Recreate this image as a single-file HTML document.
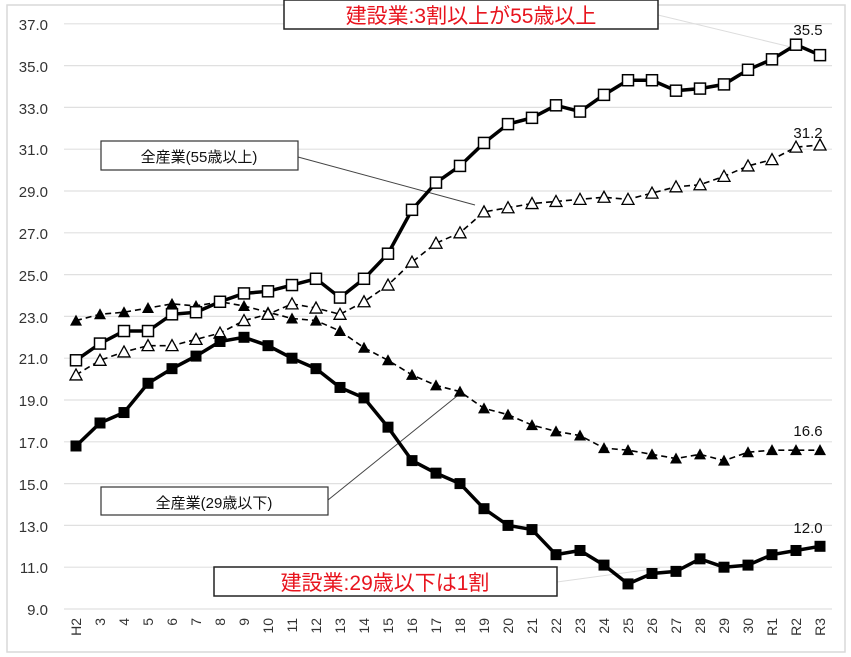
<!DOCTYPE html>
<html><head><meta charset="utf-8"><style>
body{margin:0;background:#fff}
svg{display:block;font-family:"Liberation Sans","Noto Sans CJK JP",sans-serif}
</style></head><body>
<svg id="s" width="851" height="657" viewBox="0 0 851 657">
<rect x="7" y="5" width="838" height="647" fill="#fff" stroke="#d9d9d9" stroke-width="1.5"/>
<g id="grid" stroke="#e0e0e0" stroke-width="1.2"></g>
<g font-size="15" fill="#333" text-anchor="end">
<text x="48" y="30">37.0</text><text x="48" y="72">35.0</text><text x="48" y="114">33.0</text><text x="48" y="155">31.0</text><text x="48" y="197">29.0</text><text x="48" y="239">27.0</text><text x="48" y="281">25.0</text><text x="48" y="323">23.0</text><text x="48" y="364">21.0</text><text x="48" y="406">19.0</text><text x="48" y="448">17.0</text><text x="48" y="490">15.0</text><text x="48" y="532">13.0</text><text x="48" y="573">11.0</text><text x="48" y="615">9.0</text>
</g>
<g id="xl" font-size="14" fill="#333" text-anchor="end"></g>
<line x1="298" y1="157" x2="475" y2="205" stroke="#444" stroke-width="1"/>
<line x1="328" y1="500" x2="462" y2="392" stroke="#444" stroke-width="1"/>
<line x1="658" y1="15" x2="795" y2="48" stroke="#ddd" stroke-width="1"/>
<line x1="557" y1="582" x2="660" y2="568" stroke="#ddd" stroke-width="1"/>
<g id="ser"></g>
<rect x="284" y="0" width="374" height="29" fill="#fff" stroke="#222" stroke-width="1.5"/>
<text x="471" y="23" font-size="21" fill="#e8141e" text-anchor="middle">建設業:3割以上が55歳以上</text>
<rect x="101" y="141" width="197" height="29" fill="#fff" stroke="#333" stroke-width="1.2"/>
<text x="199" y="162" font-size="15" fill="#111" text-anchor="middle">全産業(55歳以上)</text>
<rect x="101" y="487" width="227" height="28" fill="#fff" stroke="#333" stroke-width="1.2"/>
<text x="214" y="508" font-size="15" fill="#111" text-anchor="middle">全産業(29歳以下)</text>
<rect x="214" y="567" width="343" height="29" fill="#fff" stroke="#222" stroke-width="1.5"/>
<text x="385" y="590" font-size="21" fill="#e8141e" text-anchor="middle">建設業:29歳以下は1割</text>
<g font-size="15" fill="#111" text-anchor="middle">
<text x="808" y="35">35.5</text><text x="808" y="138">31.2</text><text x="808" y="436">16.6</text><text x="808" y="533">12.0</text>
</g>
</svg>
<script>
var NS="http://www.w3.org/2000/svg";
function Y(v){return 609-(v-9)*20.9}function X(i){return 76+24*i}
function el(p,t,a){var e=document.createElementNS(NS,t);for(var k in a)e.setAttribute(k,a[k]);p.appendChild(e);return e}
var g=document.getElementById('grid');
for(var v=9;v<=37;v+=2)el(g,'line',{x1:64,x2:832,y1:Y(v),y2:Y(v)});
var labs=['H2','3','4','5','6','7','8','9','10','11','12','13','14','15','16','17','18','19','20','21','22','23','24','25','26','27','28','29','30','R1','R2','R3'];
var xl=document.getElementById('xl');
labs.forEach(function(l,i){var t=el(xl,'text',{x:0,y:0,transform:'translate('+(X(i)+5)+',618) rotate(-90)'});t.textContent=l;});
var c55=[20.9,21.7,22.3,22.3,23.1,23.2,23.7,24.1,24.2,24.5,24.8,23.9,24.8,26.0,28.1,29.4,30.2,31.3,32.2,32.5,33.1,32.8,33.6,34.3,34.3,33.8,33.9,34.1,34.8,35.3,36.0,35.5];
var c29=[16.8,17.9,18.4,19.8,20.5,21.1,21.8,22.0,21.6,21.0,20.5,19.6,19.1,17.7,16.1,15.5,15.0,13.8,13.0,12.8,11.6,11.8,11.1,10.2,10.7,10.8,11.4,11.0,11.1,11.6,11.8,12.0];
var a55=[20.2,20.9,21.3,21.6,21.6,21.9,22.2,22.8,23.1,23.6,23.4,23.1,23.7,24.5,25.6,26.5,27.0,28.0,28.2,28.4,28.5,28.6,28.7,28.6,28.9,29.2,29.3,29.7,30.2,30.5,31.1,31.2];
var a29=[22.8,23.1,23.2,23.4,23.6,23.5,23.7,23.5,23.2,22.9,22.8,22.3,21.5,20.9,20.2,19.7,19.4,18.6,18.3,17.8,17.5,17.3,16.7,16.6,16.4,16.2,16.4,16.1,16.5,16.6,16.6,16.6];
var s=document.getElementById('ser');
function pts(d){return d.map(function(v,i){return X(i)+','+Y(v)}).join(' ')}
function line(d,w,dash){el(s,'polyline',{points:pts(d),fill:'none',stroke:'#000','stroke-width':w,'stroke-dasharray':dash||'none'})}
line(a29,1.6,'6,4');line(a55,1.6,'6,4');line(c29,3.5);line(c55,3.5);
a29.forEach(function(v,i){var x=X(i),y=Y(v);el(s,'polygon',{points:(x-6)+','+(y+5)+' '+(x+6)+','+(y+5)+' '+x+','+(y-6),fill:'#000'})});
a55.forEach(function(v,i){var x=X(i),y=Y(v);el(s,'polygon',{points:(x-6)+','+(y+5)+' '+(x+6)+','+(y+5)+' '+x+','+(y-6),fill:'#fff',stroke:'#000','stroke-width':1.3})});
c29.forEach(function(v,i){el(s,'rect',{x:X(i)-5.5,y:Y(v)-5.5,width:11,height:11,fill:'#000'})});
c55.forEach(function(v,i){el(s,'rect',{x:X(i)-5.5,y:Y(v)-5.5,width:11,height:11,fill:'#fff',stroke:'#000','stroke-width':1.5})});
</script>
</body></html>
